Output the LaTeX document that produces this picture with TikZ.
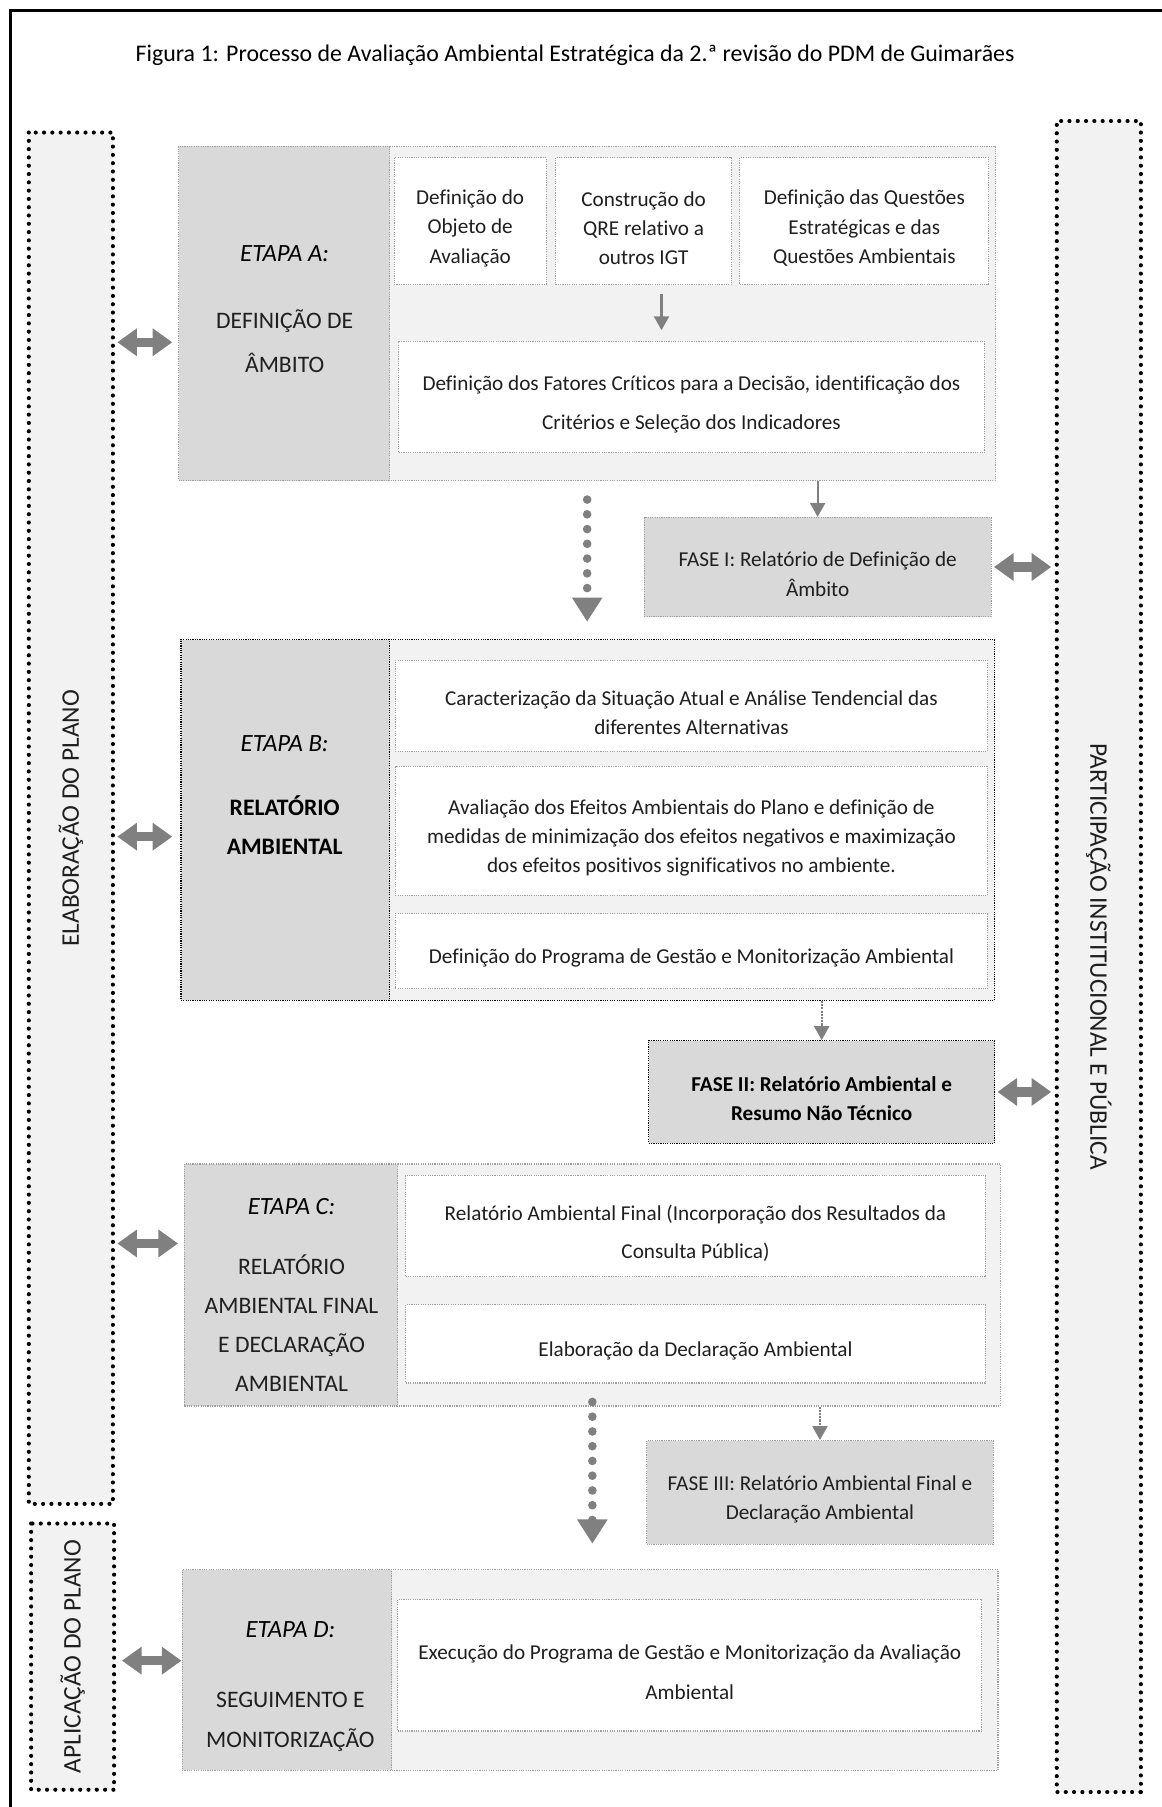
\documentclass[tikz,border=0pt]{standalone}
\usepackage{fontspec}
\setmainfont{Carlito}[Ligatures=NoCommon]
\usetikzlibrary{arrows.meta}

\definecolor{panelbg}{HTML}{F2F2F2}
\definecolor{stepbg}{HTML}{D9D9D9}
\definecolor{arrowgray}{HTML}{808080}
\definecolor{dotgray}{HTML}{A0A0A0}
\definecolor{textgray}{HTML}{1F1F1F}

\newcommand{\bodyfont}[1]{\fontsize{18.4}{#1}\selectfont}
\newcommand{\capsfont}[1]{\fontsize{20.5}{#1}\selectfont}
\newcommand{\topgap}{\rule{0pt}{25pt}}

\begin{document}
\begin{tikzpicture}[x=1pt, y=-1pt,
    every node/.style={inner sep=0pt, align=center, text=textgray, font=\bodyfont{25.5}},
    side/.style={draw=black, fill=panelbg, line width=3.6pt, line cap=round, dash pattern=on 0pt off 7.2pt, font=\fontsize{22}{26}\selectfont},
    frame/.style={draw=dotgray, fill=panelbg, line width=1pt, densely dotted},
    panel/.style={draw=dotgray, fill=stepbg, line width=1pt, densely dotted},
    item/.style={draw=dotgray, fill=white, line width=1pt, densely dotted},
    darkline/.style={draw=black},
    etapa/.style={font=\fontsize{21.5}{24}\selectfont\itshape, text=black},
    link/.style={draw=arrowgray, line width=1.8pt, -{Triangle[length=12pt, width=13pt]}},
    dotlink/.style={link, densely dotted},
    both/.style={draw=arrowgray, line width=8pt, {Triangle[length=17pt, width=23pt]}-{Triangle[length=17pt, width=23pt]}},
    flow/.style={draw=arrowgray, line width=7.5pt, line cap=round, dash pattern=on 0pt off 12.8pt, -{Triangle[length=21pt, width=25pt]}}
  ]
    \useasboundingbox (0,0) rectangle (1008,1568);

    % Page frame
    \draw[line width=2pt] (9,1568) -- (9,9) -- (1008,9);
    \node[font=\fontsize{20.7}{24}\selectfont, text=black] (title) at (499,48) {Figura 1: Processo de Avaliação Ambiental Estratégica da 2.ª revisão do PDM de Guimarães};

    % Side columns
    \node[side, rotate=90, minimum width=1190pt, minimum height=73pt] (elab) at (61.5,710) {ELABORAÇÃO DO PLANO};
    \node[side, rotate=90, minimum width=231pt, minimum height=72pt] (aplic) at (63,1437.5) {APLICAÇÃO DO PLANO};
    \node[side, rotate=-90, minimum width=1450pt, minimum height=73pt] (part) at (953.5,830) {PARTICIPAÇÃO INSTITUCIONAL E PÚBLICA};

    % Etapa A
    \node[frame, minimum width=709pt, minimum height=290pt] (etapaA) at (509.5,272) {};
    \node[panel, minimum width=183pt, minimum height=290pt] (stepA) at (246.5,272) {};
    \node[etapa] (stepAlbl) at (247,220) {ETAPA A:};
    \node[font=\capsfont{38}] (stepAtxt) at (247,296) {DEFINIÇÃO DE\\ÂMBITO};
    \node[item, minimum width=132pt, minimum height=110pt] (objeto) at (408,192) {\topgap Definição do\\Objeto de\\Avaliação};
    \node[item, minimum width=153pt, minimum height=110pt] (qre) at (558.5,192) {\topgap Construção do\\QRE relativo a\\outros IGT};
    \node[item, minimum width=216pt, minimum height=110pt] (questoes) at (750,192) {\topgap Definição das Questões\\Estratégicas e das\\Questões Ambientais};
    \node[item, minimum width=508pt, minimum height=97pt, font=\bodyfont{34}] (fatores) at (600,344.5) {\topgap Definição dos Fatores Críticos para a Decisão, identificação dos\\Critérios e Seleção dos Indicadores};
    \coordinate (qrearrow) at (574,255);
    \draw[link, shorten >=9pt] (qrearrow) -- (qrearrow |- fatores.north);

    % Fase I
    \node[panel, minimum width=301pt, minimum height=86pt] (fase1) at (709.5,492) {\topgap FASE I: Relatório de Definição de\\Âmbito};
    \draw[link] (fase1.north |- etapaA.south) -- (fase1.north);

    % Etapa B
    \node[frame, darkline, minimum width=706pt, minimum height=313pt] (etapaB) at (510,711.5) {};
    \node[panel, darkline, minimum width=181pt, minimum height=313pt] (stepB) at (247.5,711.5) {};
    \node[etapa] (stepBlbl) at (247,645) {ETAPA B:};
    \node[font=\capsfont{34}\bfseries, text=black] (stepBtxt) at (247,716) {RELATÓRIO\\AMBIENTAL};
    \node[item, minimum width=514pt, minimum height=79pt] (situacao) at (600,612.5) {\topgap Caracterização da Situação Atual e Análise Tendencial das\\diferentes Alternativas};
    \node[item, minimum width=514pt, minimum height=112pt] (efeitos) at (600,721) {\topgap Avaliação dos Efeitos Ambientais do Plano e definição de\\medidas de minimização dos efeitos negativos e maximização\\dos efeitos positivos significativos no ambiente.};
    \node[item, minimum width=514pt, minimum height=65pt] (programa) at (600,825.5) {\topgap Definição do Programa de Gestão e Monitorização Ambiental};
    \draw[flow, shorten <=16pt, shorten >=15pt] (etapaA.south) -- (etapaA.south |- etapaB.north);

    % Fase II
    \node[panel, darkline, minimum width=300pt, minimum height=89pt, font=\bfseries\bodyfont{25.5}, text=black] (fase2) at (713,947.5) {\topgap FASE II: Relatório Ambiental e\\Resumo Não Técnico};
    \draw[dotlink] (fase2.north |- etapaB.south) -- (fase2.north);

    % Etapa C
    \node[frame, minimum width=708pt, minimum height=210pt] (etapaC) at (514,1115) {};
    \node[panel, minimum width=185pt, minimum height=210pt] (stepC) at (252.5,1115) {};
    \node[etapa] (stepClbl) at (253,1047) {ETAPA C:};
    \node[font=\capsfont{34}] (stepCtxt) at (253,1148) {RELATÓRIO\\AMBIENTAL FINAL\\E DECLARAÇÃO\\AMBIENTAL};
    \node[item, minimum width=503pt, minimum height=88pt, font=\bodyfont{33}] (consulta) at (603.5,1064) {\topgap Relatório Ambiental Final (Incorporação dos Resultados da\\Consulta Pública)};
    \node[item, minimum width=503pt, minimum height=68pt] (declaracao) at (603.5,1166) {\topgap Elaboração da Declaração Ambiental};

    % Fase III
    \node[panel, minimum width=301pt, minimum height=90pt] (fase3) at (711.5,1295) {\topgap FASE III: Relatório Ambiental Final e\\Declaração Ambiental};
    \draw[dotlink] (fase3.north |- etapaC.south) -- (fase3.north);

    % Etapa D
    \node[frame, minimum width=708pt, minimum height=174pt] (etapaD) at (512,1449) {};
    \node[panel, minimum width=182pt, minimum height=174pt] (stepD) at (249,1449) {};
    \node[etapa] (stepDlbl) at (252,1414) {ETAPA D:};
    \node[font=\capsfont{34}] (stepDtxt) at (252,1494) {SEGUIMENTO E\\MONITORIZAÇÃO};
    \node[item, minimum width=507pt, minimum height=114pt, font=\bodyfont{35}] (execucao) at (598.5,1445) {\topgap Execução do Programa de Gestão e Monitorização da Avaliação\\Ambiental};
    \draw[flow, shorten <=-4pt, shorten >=22pt] (etapaC.south) -- (etapaC.south |- etapaD.north);

    % Links to the side columns
    \coordinate (yA) at (0,297);
    \coordinate (yB) at (0,726);
    \coordinate (yC) at (0,1079);
    \coordinate (yD) at (0,1441);
    \draw[both, shorten <=2pt, shorten >=5pt] (elab.south |- yA) -- (etapaA.west |- yA);
    \draw[both, shorten <=2pt, shorten >=7pt] (elab.south |- yB) -- (etapaB.west |- yB);
    \draw[both, shorten <=2pt, shorten >=5pt] (elab.south |- yC) -- (etapaC.west |- yC);
    \draw[both, shorten <=5pt] (aplic.south |- yD) -- (etapaD.west |- yD);
    \draw[both, shorten <=2pt, shorten >=3pt] (fase1.east) -- (part.south |- fase1.east);
    \draw[both, shorten <=2pt, shorten >=3pt] (fase2.east) -- (part.south |- fase2.east);
\end{tikzpicture}
\end{document}
